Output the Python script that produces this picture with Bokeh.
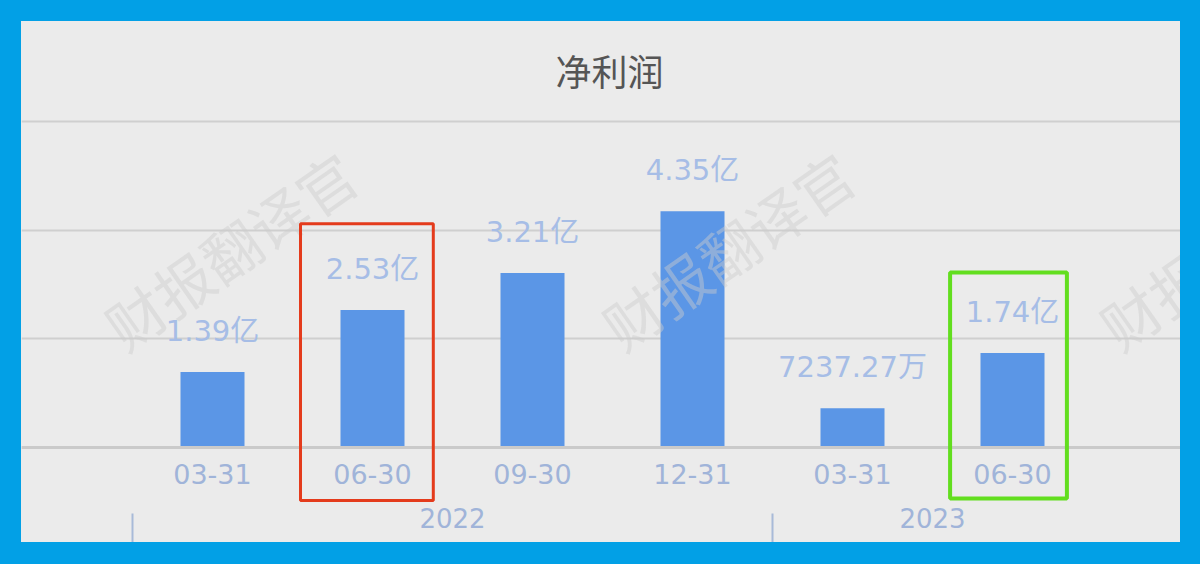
from bokeh.plotting import figure
from bokeh.models import (LinearAxis, FixedTicker, Range1d, ColumnDataSource, Label,
                          BoxAnnotation, GlobalInlineStyleSheet)
from bokeh.core.properties import value
from bokeh.embed import file_html
from bokeh.resources import INLINE

# ---------------- data ----------------
title_text = "净利润"
quarters = ["03-31", "06-30", "09-30", "12-31", "03-31", "06-30"]
years = ["2022", "2022", "2022", "2022", "2023", "2023"]
net_profit = [1.39e8, 2.53e8, 3.21e8, 4.35e8, 7237.27e4, 1.74e8]
value_labels = ["1.39亿", "2.53亿", "3.21亿", "4.35亿", "7237.27万", "1.74亿"]
grid_values = [0, 2e8, 4e8, 6e8]
watermark_text = "财报翻译官"
highlighted = [1, 5]

# ---------------- derived ----------------
positions = list(range(len(quarters)))
year_names = sorted(set(years), key=years.index)
year_centers = [sum(i for i, y in zip(positions, years) if y == yn) /
                years.count(yn) for yn in year_names]
year_starts = [min(i for i, y in zip(positions, years) if y == yn) - 0.5
               for yn in year_names]

src = ColumnDataSource(dict(x=positions, v=net_profit, label=value_labels))

BG = "#ebebeb"
p = figure(width=1159, height=521, output_backend="svg", toolbar_location=None,
           x_range=Range1d(-1.19375, 6.05), y_range=Range1d(-1.7486e8, 6.387e8),
           x_axis_location=None, y_axis_location=None,
           min_border_left=0, min_border_right=0, min_border_top=79,
           min_border_bottom=0,
           background_fill_color=BG, border_fill_color=BG,
           outline_line_color=None)
p.styles = {"background-color": BG}

p.stylesheets = [GlobalInlineStyleSheet(
    css="html,body{background:#02a0e6 !important;}"
        "body{margin:21px 0 0 21px !important;padding:0 !important;}")]

# title
p.title.text = title_text
p.title.align = "left"
p.title.offset = 534
p.title.text_font = "Noto Sans CJK SC"
p.title.text_font_size = "36px"
p.title.text_font_style = "normal"
p.title.text_color = "#555555"

# grid
p.xgrid.visible = False
p.ygrid.ticker = FixedTicker(ticks=grid_values)
p.ygrid.grid_line_color = "#cfcfcf"
p.ygrid.grid_line_width = 2

# bars
p.vbar(x="x", top="v", bottom=0, width=0.4, source=src,
       fill_color="#5b96e6", line_color=None)

# value labels
p.text(x="x", y="v", text="label", source=src, text_align="center",
       text_baseline="alphabetic", y_offset=-41,
       text_font=value("DejaVu Sans, Noto Sans CJK SC"),
       text_font_size=value("29px"), text_color="#a6bde6")

# quarter axis, sitting on the zero line
LBL = "#a0b4d9"
qa = LinearAxis(ticker=FixedTicker(ticks=positions, minor_ticks=[]),
                major_label_overrides={float(i): q for i, q in zip(positions, quarters)},
                fixed_location=0)
qa.axis_line_color = "#cacaca"
qa.axis_line_width = 3
qa.major_tick_line_color = None
qa.major_tick_out = 0
qa.major_tick_in = 0
qa.minor_tick_line_color = None
qa.minor_tick_out = 0
qa.minor_tick_in = 0
qa.major_label_text_font = "DejaVu Sans"
qa.major_label_text_font_size = "27px"
qa.major_label_text_color = LBL
qa.major_label_standoff = 16
p.add_layout(qa, "below")

# year axis (group separators drawn as minor ticks)
ya = LinearAxis(ticker=FixedTicker(ticks=year_centers, minor_ticks=year_starts),
                major_label_overrides={float(c): y for c, y in zip(year_centers, year_names)},
                fixed_location=-1.2148e8)
ya.axis_line_color = None
ya.major_tick_line_color = None
ya.major_tick_out = 0
ya.major_tick_in = 0
ya.minor_tick_line_color = "#a8bad8"
ya.minor_tick_line_width = 2
ya.minor_tick_in = 0
ya.minor_tick_out = 30
ya.major_label_text_font = "DejaVu Sans"
ya.major_label_text_font_size = "26px"
ya.major_label_text_color = LBL
ya.major_label_standoff = -35
p.add_layout(ya, "below")

# watermarks
for wx in [0.11, 3.22, 6.33]:
    p.add_layout(Label(x=wx, y=3.64e8, text=watermark_text, angle=35,
                       angle_units="deg", text_align="center",
                       text_baseline="middle", text_font="Noto Sans CJK SC",
                       text_font_size="58px", text_color="#cccccc",
                       text_alpha=0.45))

# highlight boxes
box_specs = [(highlighted[0], -0.45, 0.38, 4.12e8, -0.975e8, "#e43b1c", 3),
             (highlighted[1], -0.39, 0.34, 3.22e8, -0.94e8, "#62de1e", 4)]
for i, dl, dr, top, bot, col, lw in box_specs:
    p.add_layout(BoxAnnotation(left=i + dl, right=i + dr, top=top, bottom=bot,
                               fill_color=None, fill_alpha=0, line_color=col,
                               line_alpha=1.0, line_width=lw, level="overlay"))

open("out.html", "w").write(file_html(p, INLINE))
